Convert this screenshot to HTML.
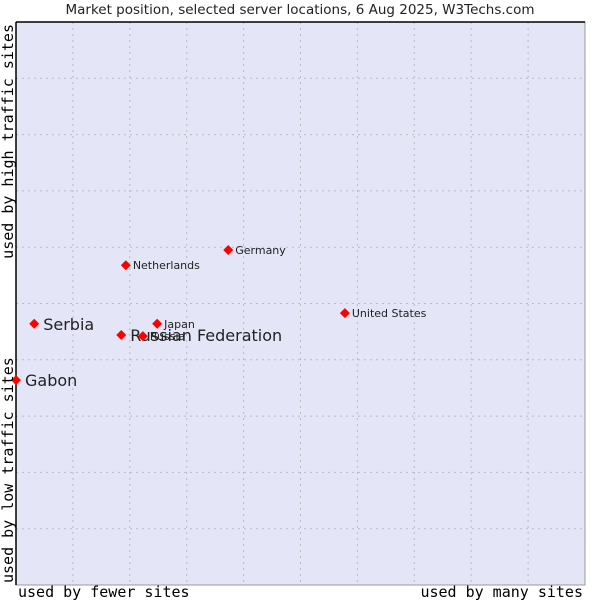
<!DOCTYPE html>
<html><head><meta charset="utf-8"><style>body{margin:0;background:#fff}svg{display:block}</style></head>
<body>
<svg id="chart" width="600" height="600" xmlns="http://www.w3.org/2000/svg">
<rect x="0" y="0" width="600" height="600" fill="#fff"/>
<text x="300" y="14" text-anchor="middle" font-family="DejaVu Sans, sans-serif" font-size="13.5" fill="#222">Market position, selected server locations, 6 Aug 2025, W3Techs.com</text>
<rect x="16" y="22" width="569" height="563" fill="#e4e6f8" stroke="#999"/>
<g id="grid"></g>
<line x1="16" y1="22" x2="585" y2="22" stroke="#000" stroke-width="1.5"/>
<line x1="16" y1="22" x2="16" y2="585" stroke="#000" stroke-width="1.5"/>
<g id="points"></g>
<text x="18" y="597" font-family="DejaVu Sans Mono, monospace" font-size="15" fill="#000">used by fewer sites</text>
<text x="583" y="597" text-anchor="end" font-family="DejaVu Sans Mono, monospace" font-size="15" fill="#000">used by many sites</text>
<text transform="translate(13,583) rotate(-90)" font-family="DejaVu Sans Mono, monospace" font-size="15" fill="#000">used by low traffic sites</text>
<text transform="translate(13,24) rotate(-90)" text-anchor="end" font-family="DejaVu Sans Mono, monospace" font-size="15" fill="#000">used by high traffic sites</text>
</svg>
<script>
const names=["Gabon","Serbia","Russian Federation","Netherlands","Russia","Japan","Germany","United States"];
const xValues=[0,3.2,18.5,19.3,22.3,24.8,37.3,57.8];
const yValues=[36.4,46.4,44.4,56.8,44.2,46.4,59.5,48.3];
const bigLabel=[true,true,true,false,false,false,false,false];
const NS="http://www.w3.org/2000/svg";
const L=16,R=585,T=22,B=585;
const xs=v=>L+v/100*(R-L), ys=v=>B-v/100*(B-T);
const grid=document.getElementById('grid');
for(let i=1;i<10;i++){
  const v=document.createElementNS(NS,'line');
  
  
  v.setAttribute('x1',xs(i*10));v.setAttribute('x2',xs(i*10));v.setAttribute('y1',T);v.setAttribute('y2',B);
  v.setAttribute('stroke','#bbb');v.setAttribute('stroke-dasharray','2,4');grid.appendChild(v);
  const h=document.createElementNS(NS,'line');
  
  
  h.setAttribute('y1',ys(i*10));h.setAttribute('y2',ys(i*10));h.setAttribute('x1',L);h.setAttribute('x2',R);
  h.setAttribute('stroke','#bbb');h.setAttribute('stroke-dasharray','2,4');grid.appendChild(h);
}
const pts=document.getElementById('points');
names.forEach((n,i)=>{
  const x=xs(xValues[i]),y=ys(yValues[i]);
  const d=document.createElementNS(NS,'path');
  
  
  d.setAttribute('d',`M${x} ${y-5}L${x+5} ${y}L${x} ${y+5}L${x-5} ${y}Z`);
  d.setAttribute('fill','#f00');pts.appendChild(d);
  const t=document.createElementNS(NS,'text');
  
  
  t.setAttribute('x',x+(bigLabel[i]?9:7));t.setAttribute('y',y+(bigLabel[i]?6:4));
  t.setAttribute('font-family','DejaVu Sans, sans-serif');
  t.setAttribute('font-size',bigLabel[i]?16:11);t.setAttribute('fill','#222');
  t.textContent=n;pts.appendChild(t);
});
</script>
</body></html>
